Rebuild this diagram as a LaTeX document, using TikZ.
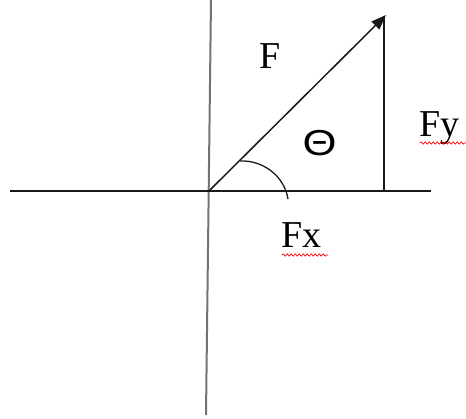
\documentclass[tikz,border=0pt]{standalone}
\usepackage{fontspec}
\setmainfont{Liberation Serif}
\newfontfamily\thetafont{Liberation Sans}
\usetikzlibrary{arrows.meta,decorations.pathmorphing}
\begin{document}
\begin{tikzpicture}[x=1pt,y=-1pt,
  axisline/.style={line width=1.5pt,black!90},
  vaxis/.style={line width=2pt,black!55},
  lbl/.style={inner sep=0pt,font=\fontsize{38}{38}\selectfont},
  spell/.style={red,line width=0.7pt,decorate,decoration={snake,segment length=4pt,amplitude=1.1pt}}]
\useasboundingbox (0,0) rectangle (466,419);
\coordinate (O) at (209,191);
\coordinate (L) at (10,191);
\coordinate (R) at (431,191);
\coordinate (T) at (211,0);
\coordinate (B) at (206,415);
\coordinate (Tip) at (386,15);
\coordinate (Top) at (384,17);
\coordinate (Foot) at (384,191);
\coordinate (A1) at (240,161);
\coordinate (A2) at (288,199);
\draw[vaxis] (T) -- (B);
\draw[axisline] (L) -- (R);
\draw[axisline,-{Triangle[length=15pt,width=11pt]}] (O) -- (Tip);
\draw[axisline] (Top) -- (Foot);
\draw[axisline,line width=1.3pt] (A1) .. controls (262,160) and (284,175) .. (A2);
\node[lbl,anchor=base west] (F) at (259,69) {F};
\node[lbl,anchor=base west] (Fx) at (281,248) {Fx};
\node[lbl,anchor=base west] (Fy) at (419,137) {Fy};
\node[inner sep=0pt,font=\thetafont\fontsize{38}{38}\selectfont] (th) at (319.5,143) {\scalebox{1.15}[0.95]{Θ}};
\coordinate (u1) at (282,255);
\coordinate (u2) at (328,255);
\coordinate (v1) at (420,143);
\coordinate (v2) at (466,143);
\draw[spell] (u1) -- (u2);
\draw[spell] (v1) -- (v2);
\end{tikzpicture}
\end{document}
